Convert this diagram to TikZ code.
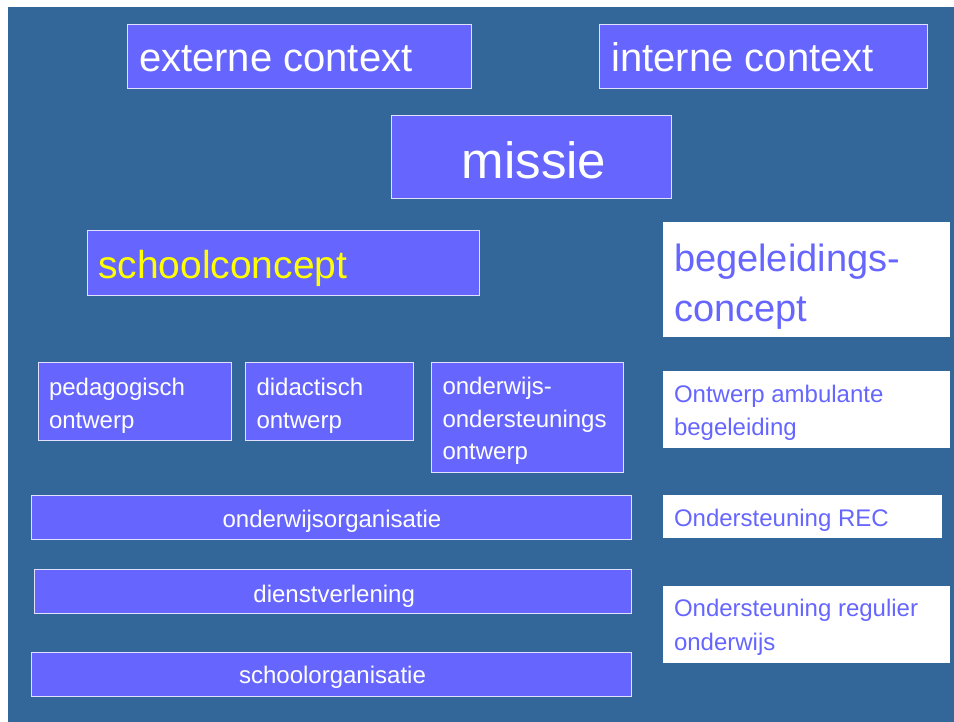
\documentclass[tikz,border=0pt]{standalone}
\usepackage{fontspec}
\setmainfont{Liberation Sans}
\definecolor{bgblue}{RGB}{51,102,153}
\definecolor{boxblue}{RGB}{102,102,255}
\definecolor{edgecol}{RGB}{225,225,255}
\definecolor{ylw}{RGB}{255,255,0}
\tikzset{
  x=1pt, y=-1pt,
  bluebox/.style={draw=edgecol, line width=0.9pt, fill=boxblue, inner sep=0pt, outer sep=0pt},
  whitebox/.style={draw=none, fill=white, inner sep=0pt, outer sep=0pt},
  bigtxt/.style={inner sep=0pt, outer sep=0pt, text=white, font=\fontsize{40}{48}\selectfont},
  smalltxt/.style={inner sep=0pt, outer sep=0pt, text=white, font=\fontsize{24}{33}\selectfont},
  rtxt/.style={inner sep=0pt, outer sep=0pt, text=boxblue, font=\fontsize{24}{33}\selectfont},
}
\begin{document}
\begin{tikzpicture}
\useasboundingbox (0,0) rectangle (954,722);
\fill[white] (0,0) rectangle (954,722);
\fill[bgblue] (8,7) rectangle (954,722);

% boxes
\node[bluebox, minimum width=344pt, minimum height=64pt] (ext) at (299,56) {};
\node[bluebox, minimum width=328.5pt, minimum height=64pt] (int) at (763.25,56) {};
\node[bluebox, minimum width=280pt, minimum height=83pt] (mis) at (531,156.5) {};
\node[bluebox, minimum width=392pt, minimum height=65pt] (sc) at (283,262.5) {};
\node[whitebox, minimum width=287pt, minimum height=115pt] (bc) at (806.5,279.5) {};
\node[bluebox, minimum width=193pt, minimum height=78pt] (ped) at (134.5,401) {};
\node[bluebox, minimum width=168pt, minimum height=78pt] (did) at (329,401) {};
\node[bluebox, minimum width=192pt, minimum height=110pt] (ond) at (527,417) {};
\node[whitebox, minimum width=287pt, minimum height=76.5pt] (amb) at (806.5,409.25) {};
\node[bluebox, minimum width=600.5pt, minimum height=44pt] (oorg) at (331.25,517) {};
\node[whitebox, minimum width=279pt, minimum height=42.5pt] (rec) at (802.5,516.25) {};
\node[bluebox, minimum width=597.5pt, minimum height=44pt] (dv) at (332.75,591) {};
\node[whitebox, minimum width=287pt, minimum height=76.5pt] (reg) at (806.5,624.25) {};
\node[bluebox, minimum width=600.5pt, minimum height=44pt] (sorg) at (331.25,674) {};

% texts
\node[bigtxt, anchor=base west] (t-ext) at (139,72) {externe context};
\node[bigtxt, anchor=base west] (t-int) at (611.5,71.5) {interne context};
\node[bigtxt, anchor=base, font=\fontsize{51}{60}\selectfont] (t-mis) at (534,179) {missie};
\node[bigtxt, anchor=base west, text=ylw, font=\fontsize{39}{46}\selectfont] (t-sc) at (98,279) {schoolconcept};
\node[bigtxt, anchor=base west, text=boxblue, font=\fontsize{38}{49.7}\selectfont] (t-bc) at (674,272)
  {\vtop{\hbox{begeleidings-}\hbox{concept}}};
\node[smalltxt, anchor=base west] (t-ped) at (49,395) {\vtop{\hbox{pedagogisch}\hbox{ontwerp}}};
\node[smalltxt, anchor=base west] (t-did) at (256.5,395) {\vtop{\hbox{didactisch}\hbox{ontwerp}}};
\node[smalltxt, anchor=base west] (t-ond) at (442.5,394) {\vtop{\hbox{onderwijs-}\hbox{ondersteunings}\hbox{ontwerp}}};
\node[rtxt, anchor=base west, font=\fontsize{24}{32.5}\selectfont] (t-amb) at (674,402.7) {\vtop{\hbox{Ontwerp ambulante}\hbox{begeleiding}}};
\node[smalltxt, anchor=base] (t-oorg) at (332,527.7) {onderwijsorganisatie};
\node[rtxt, anchor=base west] (t-rec) at (674,526.7) {Ondersteuning REC};
\node[smalltxt, anchor=base] (t-dv) at (334.2,602.5) {dienstverlening};
\node[rtxt, anchor=base west, font=\fontsize{24}{33.3}\selectfont] (t-reg) at (674,616.7) {\vtop{\hbox{Ondersteuning regulier}\hbox{onderwijs}}};
\node[smalltxt, anchor=base] (t-sorg) at (332.5,683) {schoolorganisatie};
\end{tikzpicture}
\end{document}
